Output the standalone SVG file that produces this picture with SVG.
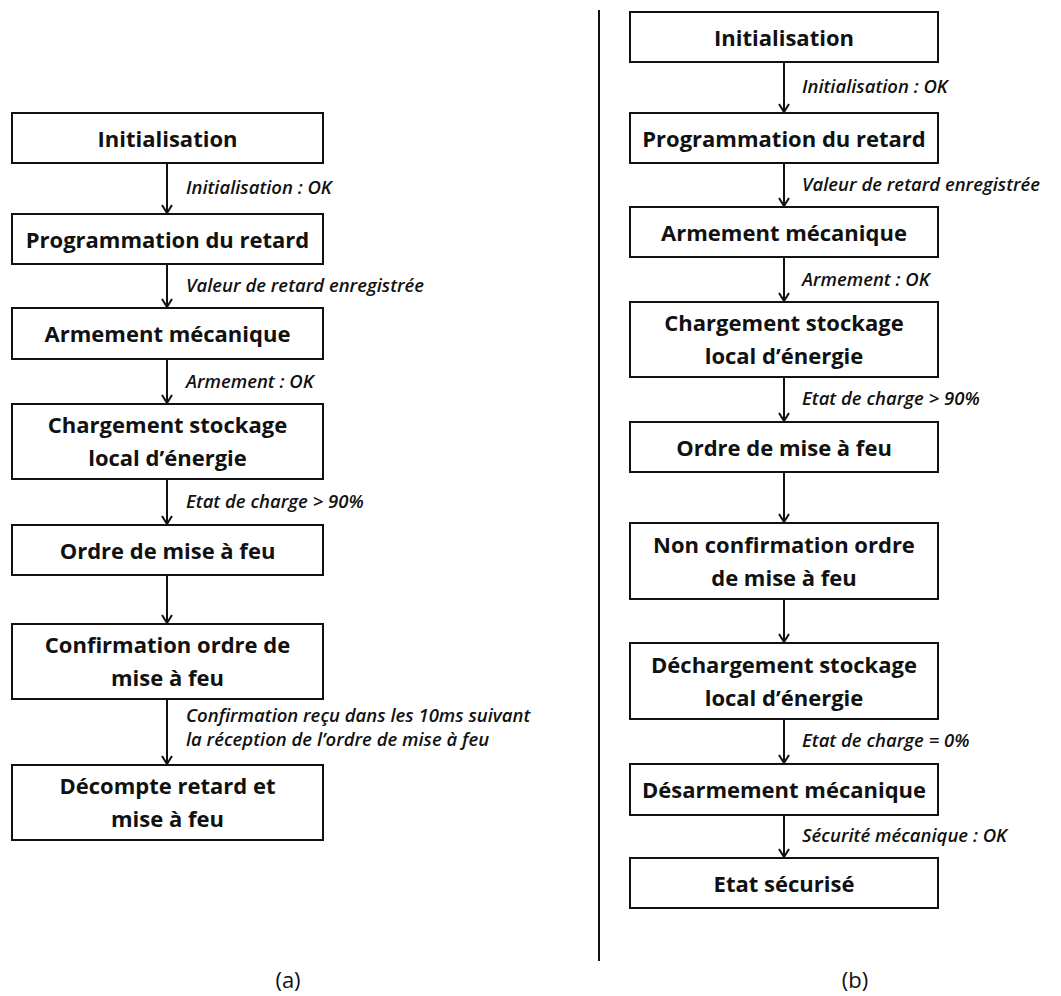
<svg xmlns="http://www.w3.org/2000/svg" width="1061" height="996" viewBox="0 0 1061 996">
<defs>
<style>
.box{fill:#fff;stroke:#111;stroke-width:2}
.t{font-family:"Open Sans","Liberation Sans",sans-serif;font-weight:700;font-size:22px;fill:#111;text-anchor:middle}
.lb{font-family:"Open Sans","Liberation Sans",sans-serif;font-weight:600;font-style:italic;font-size:18.5px;fill:#111}
.cap{font-family:"Open Sans","Liberation Sans",sans-serif;font-size:22px;fill:#111;text-anchor:middle}
.ar{stroke:#111;stroke-width:2;fill:none}
</style>
<marker id="ah" viewBox="0 0 10 12" refX="9" refY="6" markerWidth="10" markerHeight="12" markerUnits="userSpaceOnUse" orient="auto">
<path d="M1,1 L9,6 L1,11" fill="none" stroke="#111" stroke-width="2"/>
</marker>
</defs>
<rect width="1061" height="996" fill="#fff"/>

<line x1="599" y1="10" x2="599" y2="961" stroke="#111" stroke-width="2"/>

<g id="connectors">
<g class="ar" marker-end="url(#ah)">
<line x1="167" y1="163" x2="167" y2="213"/>
<line x1="167" y1="264" x2="167" y2="307"/>
<line x1="167" y1="359" x2="167" y2="403"/>
<line x1="167" y1="479" x2="167" y2="524"/>
<line x1="167" y1="575" x2="167" y2="623"/>
<line x1="167" y1="699" x2="167" y2="764"/>
<line x1="784" y1="62" x2="784" y2="112"/>
<line x1="784" y1="163" x2="784" y2="206"/>
<line x1="784" y1="257" x2="784" y2="301"/>
<line x1="784" y1="377" x2="784" y2="421"/>
<line x1="784" y1="472" x2="784" y2="522"/>
<line x1="784" y1="599" x2="784" y2="642"/>
<line x1="784" y1="719" x2="784" y2="763"/>
<line x1="784" y1="815" x2="784" y2="857"/>
</g>
<text class="lb" x="186" y="194">Initialisation : OK</text>
<text class="lb" x="186" y="292">Valeur de retard enregistrée</text>
<text class="lb" x="186" y="388">Armement : OK</text>
<text class="lb" x="186" y="508">Etat de charge &gt; 90%</text>
<text class="lb" x="186" y="722">Confirmation reçu dans les 10ms suivant</text>
<text class="lb" x="186" y="746">la réception de l’ordre de mise à feu</text>
<text class="lb" x="802" y="93">Initialisation : OK</text>
<text class="lb" x="802" y="191">Valeur de retard enregistrée</text>
<text class="lb" x="802" y="286">Armement : OK</text>
<text class="lb" x="802" y="405">Etat de charge &gt; 90%</text>
<text class="lb" x="802" y="747">Etat de charge = 0%</text>
<text class="lb" x="802" y="842">Sécurité mécanique : OK</text>
</g>

<g id="a-init"><rect class="box" x="12" y="113" width="311" height="50"/><text class="t" x="167.5" y="146.5">Initialisation</text></g>
<g id="a-prog"><rect class="box" x="12" y="214" width="311" height="50"/><text class="t" x="167.5" y="247.5">Programmation du retard</text></g>
<g id="a-arm"><rect class="box" x="12" y="308" width="311" height="51"/><text class="t" x="167.5" y="342">Armement mécanique</text></g>
<g id="a-charg"><rect class="box" x="12" y="404" width="311" height="75"/><text class="t" x="167.5" y="433">Chargement stockage</text><text class="t" x="167.5" y="466">local d’énergie</text></g>
<g id="a-ordre"><rect class="box" x="12" y="525" width="311" height="50"/><text class="t" x="167.5" y="558.5">Ordre de mise à feu</text></g>
<g id="a-conf"><rect class="box" x="12" y="624" width="311" height="75"/><text class="t" x="167.5" y="653">Confirmation ordre de</text><text class="t" x="167.5" y="686">mise à feu</text></g>
<g id="a-decompte"><rect class="box" x="12" y="765" width="311" height="75"/><text class="t" x="167.5" y="794">Décompte retard et</text><text class="t" x="167.5" y="827">mise à feu</text></g>

<g id="b-init"><rect class="box" x="630" y="12" width="308" height="50"/><text class="t" x="784" y="45.5">Initialisation</text></g>
<g id="b-prog"><rect class="box" x="630" y="113" width="308" height="50"/><text class="t" x="784" y="146.5">Programmation du retard</text></g>
<g id="b-arm"><rect class="box" x="630" y="207" width="308" height="50"/><text class="t" x="784" y="240.5">Armement mécanique</text></g>
<g id="b-charg"><rect class="box" x="630" y="302" width="308" height="75"/><text class="t" x="784" y="331">Chargement stockage</text><text class="t" x="784" y="364">local d’énergie</text></g>
<g id="b-ordre"><rect class="box" x="630" y="422" width="308" height="50"/><text class="t" x="784" y="455.5">Ordre de mise à feu</text></g>
<g id="b-nonconf"><rect class="box" x="630" y="523" width="308" height="76"/><text class="t" x="784" y="552.5">Non confirmation ordre</text><text class="t" x="784" y="585.5">de mise à feu</text></g>
<g id="b-decharg"><rect class="box" x="630" y="643" width="308" height="76"/><text class="t" x="784" y="672.5">Déchargement stockage</text><text class="t" x="784" y="705.5">local d’énergie</text></g>
<g id="b-desarm"><rect class="box" x="630" y="764" width="308" height="51"/><text class="t" x="784" y="798">Désarmement mécanique</text></g>
<g id="b-secure"><rect class="box" x="630" y="858" width="308" height="50"/><text class="t" x="784" y="891.5">Etat sécurisé</text></g>

<text class="cap" x="288" y="988">(a)</text>
<text class="cap" x="855" y="988">(b)</text>
</svg>
